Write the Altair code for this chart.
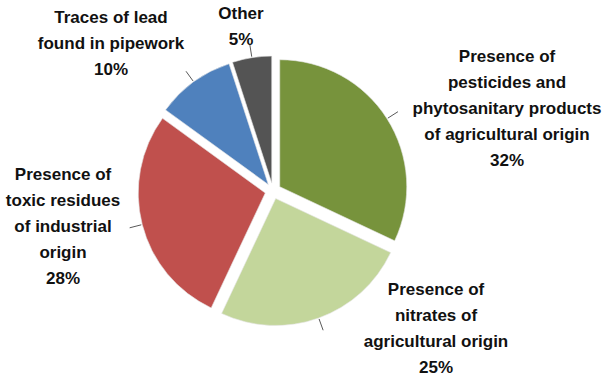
import altair as alt
import pandas as pd

# Sources of drinking-water contamination (share of cases, %)
categories = [
    "Pesticides and phytosanitary products",
    "Nitrates",
    "Toxic industrial residues",
    "Lead in pipework",
    "Other",
]
label_lines = [
    "Presence of\npesticides and\nphytosanitary products\nof agricultural origin",
    "Presence of\nnitrates of\nagricultural origin",
    "Presence of\ntoxic residues\nof industrial\norigin",
    "Traces of lead\nfound in pipework",
    "Other",
]
shares = [32, 25, 28, 10, 5]
colors = ["#77933C", "#C3D69B", "#C0504D", "#4F81BD", "#545454"]

# Layout of the pie and its callouts (pixels); label y is the first line's centre
CX, CY, R, EXPLODE = 273, 191, 127, 8
label_x = [507, 436, 63, 111, 241]
label_y = [57, 290, 175, 18, 14]

df = pd.DataFrame({
    "order": list(range(len(categories))),
    "category": categories,
    "label": label_lines,
    "share": shares,
})
layout = pd.DataFrame({"lx": label_x, "ly": label_y})
df = pd.concat([df, layout], axis=1)

base = (
    alt.Chart(df)
    .transform_window(cum="sum(share)", sort=[alt.SortField("order")], frame=[None, 0])
    .transform_calculate(start="datum.cum - datum.share")
    .transform_calculate(ang="(datum.cum - datum.share / 2) / 100 * 2 * PI")
    .transform_calculate(px=f"{CX} + {EXPLODE} * sin(datum.ang)")
    .transform_calculate(py=f"{CY} - {EXPLODE} * cos(datum.ang)")
    .transform_calculate(ex1=f"datum.px + {R + 1} * sin(datum.ang)")
    .transform_calculate(ey1=f"datum.py - {R + 1} * cos(datum.ang)")
    .transform_calculate(ex2=f"datum.px + {R + 13} * sin(datum.ang)")
    .transform_calculate(ey2=f"datum.py - {R + 13} * cos(datum.ang)")
    .transform_calculate(text="datum.label + '\\n' + datum.share + '%'")
)

pie = base.mark_arc(outerRadius=R, stroke="#e6e6e6", strokeWidth=0.6).encode(
    x=alt.X("px:Q", scale=None, axis=None),
    y=alt.Y("py:Q", scale=None, axis=None),
    theta=alt.Theta("start:Q", scale=alt.Scale(domain=[0, 100]), stack=None),
    theta2="cum:Q",
    color=alt.Color(
        "category:N",
        scale=alt.Scale(domain=categories, range=colors),
        legend=None,
    ),
)

leaders = base.mark_rule(color="#595959", strokeWidth=1).encode(
    x=alt.X("ex1:Q", scale=None, axis=None),
    y=alt.Y("ey1:Q", scale=None, axis=None),
    x2="ex2:Q",
    y2="ey2:Q",
)

labels = base.mark_text(
    lineBreak="\n",
    lineHeight=26,
    fontSize=17,
    fontWeight="bold",
    font="Liberation Sans",
    align="center",
    baseline="middle",
    color="#111111",
).encode(
    x=alt.X("lx:Q", scale=None, axis=None),
    y=alt.Y("ly:Q", scale=None, axis=None),
    text="text:N",
)

chart = (
    alt.layer(pie, leaders, labels)
    .properties(width=613, height=379, padding=0, autosize="none", background="white")
    .configure_view(stroke=None)
)

chart.save("out.html", embed_options={"renderer": "svg", "actions": False})
